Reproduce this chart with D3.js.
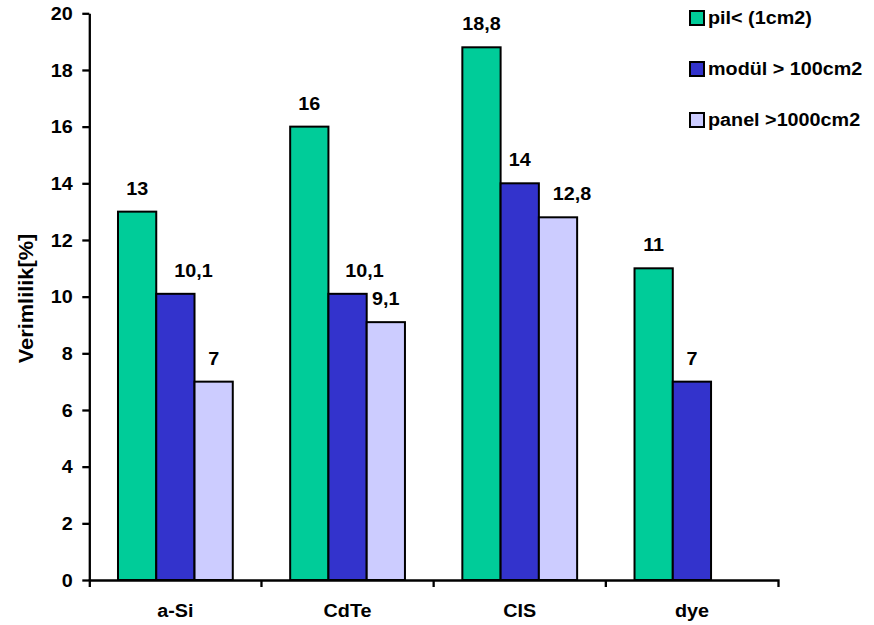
<!DOCTYPE html>
<html>
<head>
<meta charset="utf-8">
<script src="https://cdn.jsdelivr.net/npm/d3@7"></script>
<style>
  body { margin: 0; background: #fff; }
  text { font-family: "Liberation Sans", Arial, sans-serif; font-weight: bold; fill: #000; }
</style>
</head>
<body>
<svg id="chart" width="874" height="625"></svg>
<script>
// Efficiency of thin-film solar technologies, by size class
const categories = ["a-Si", "CdTe", "CIS", "dye"];
const seriesNames = ["pil< (1cm2)", "modül > 100cm2", "panel >1000cm2"];
const pilValues = [13, 16, 18.8, 11];
const modulValues = [10.1, 10.1, 14, 7];
const panelValues = [7, 9.1, 12.8, null];
const yTickValues = [0, 2, 4, 6, 8, 10, 12, 14, 16, 18, 20];
const yTitle = "Verimlilik[%]";

const seriesValues = [pilValues, modulValues, panelValues];
const seriesColors = ["#00CC99", "#3333CC", "#CCCCFF"];

// Labels that sit beside a taller neighbour are nudged right to stay clear of it
const labelNudge = { "a-Si|1": 18, "CdTe|1": 17, "CIS|2": 14 };

const FONT = 17.5, STRETCH = 1.13;

const svg = d3.select("#chart");

const x = d3.scaleBand().domain(categories).range([89.3, 778]).paddingInner(0).paddingOuter(0);
const xInner = d3.scaleBand().domain(d3.range(seriesNames.length))
  .range([0, x.bandwidth()]).paddingInner(0).paddingOuter(0.75);
const y = d3.scaleLinear().domain([0, 20]).range([580, 13.3]);

function placeText(sel, px, py, sx) {
  return sel.attr("transform", `translate(${px},${py}) scale(${sx},1)`);
}

// Bars
const rows = [];
categories.forEach((c, ci) => {
  seriesValues.forEach((vals, si) => {
    if (vals[ci] != null) rows.push({ c, si, v: vals[ci] });
  });
});

svg.append("g").selectAll("rect").data(rows).join("rect")
  .attr("x", d => x(d.c) + xInner(d.si))
  .attr("y", d => y(d.v))
  .attr("width", xInner.bandwidth())
  .attr("height", d => y(0) - y(d.v))
  .attr("fill", d => seriesColors[d.si])
  .attr("stroke", "#000")
  .attr("stroke-width", 2);

// Value labels
svg.append("g").selectAll("text").data(rows).join("text")
  .attr("text-anchor", "middle")
  .style("font-size", FONT + "px")
  .each(function(d) {
    const cx = x(d.c) + xInner(d.si) + xInner.bandwidth() / 2 + (labelNudge[d.c + "|" + d.si] || 0);
    placeText(d3.select(this), cx, y(d.v) - 17, STRETCH);
  })
  .text(d => String(d.v).replace(".", ","));

// Y axis
const yAxis = svg.append("g").attr("transform", "translate(89.3,0)")
  .call(d3.axisLeft(y).tickValues(yTickValues).tickSizeInner(7).tickSizeOuter(0).tickFormat(d3.format("d")));
yAxis.select(".domain").attr("stroke", "#000").attr("stroke-width", 2.3);
yAxis.selectAll(".tick line").attr("stroke", "#000").attr("stroke-width", 2.3);
yAxis.selectAll(".tick text")
  .attr("x", null).attr("dy", null)
  .attr("text-anchor", "end")
  .style("font-size", FONT + "px")
  .attr("font-family", null)
  .each(function() { placeText(d3.select(this), -16.6, 6.3, STRETCH); });
yAxis.attr("font-family", null).attr("font-size", null);

// X axis: category names centred, ticks on the band boundaries
const xAxis = svg.append("g").attr("transform", `translate(0,${y(0)})`)
  .call(d3.axisBottom(x).tickSizeInner(0).tickSizeOuter(7));
xAxis.attr("font-family", null).attr("font-size", null);
xAxis.select(".domain").attr("stroke", "#000").attr("stroke-width", 2.3);
xAxis.selectAll(".tick line").remove();
xAxis.selectAll(".tick text")
  .attr("y", null).attr("dy", null)
  .attr("text-anchor", "middle")
  .style("font-size", FONT + "px")
  .each(function() { placeText(d3.select(this), 0, 37.3, STRETCH); });
xAxis.append("g").selectAll("line").data(categories.slice(1)).join("line")
  .attr("x1", d => x(d)).attr("x2", d => x(d))
  .attr("y1", 0).attr("y2", 7)
  .attr("stroke", "#000").attr("stroke-width", 2.3);

// Y axis title
svg.append("text")
  .attr("text-anchor", "middle")
  .style("font-size", "20px")
  .attr("transform", "translate(32.5,298.5) rotate(-90) scale(1.09,1)")
  .text(yTitle);

// Legend
const legend = svg.append("g").selectAll("g").data(seriesNames).join("g")
  .attr("transform", (d, i) => `translate(690,${18 + i * 51})`);
legend.append("rect")
  .attr("x", 0).attr("y", -7).attr("width", 14).attr("height", 14)
  .attr("fill", (d, i) => seriesColors[i])
  .attr("stroke", "#000").attr("stroke-width", 2);
legend.append("text")
  .style("font-size", FONT + "px")
  .each(function() { placeText(d3.select(this), 18, 6.3, STRETCH); })
  .text(d => d);
</script>
</body>
</html>
